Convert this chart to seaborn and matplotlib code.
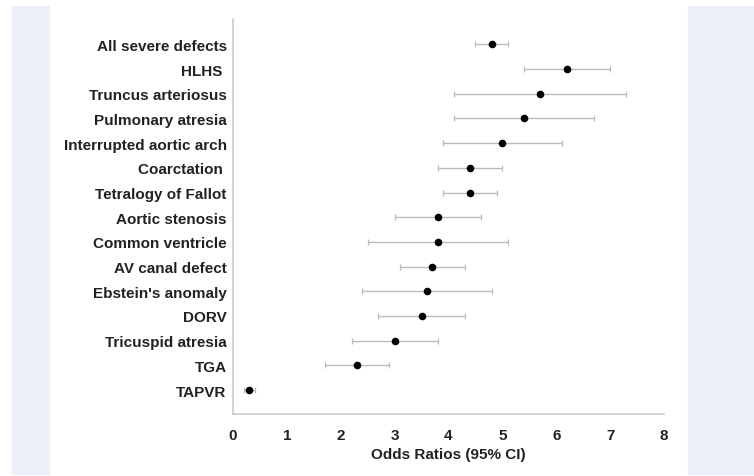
import numpy as np
import pandas as pd
import matplotlib
matplotlib.use("Agg")
import matplotlib.pyplot as plt
from matplotlib.patches import Rectangle
import seaborn as sns

# Odds ratios with 95% CI (top to bottom)
defects = ["All severe defects", "HLHS ", "Truncus arteriosus", "Pulmonary atresia",
           "Interrupted aortic arch", "Coarctation ", "Tetralogy of Fallot",
           "Aortic stenosis", "Common ventricle", "AV canal defect",
           "Ebstein's anomaly", "DORV", "Tricuspid atresia", "TGA", "TAPVR"]
odds_ratio = [4.8, 6.2, 5.7, 5.4, 5.0, 4.4, 4.4, 3.8, 3.8, 3.7, 3.6, 3.5, 3.0, 2.3, 0.3]
ci_low = [4.5, 5.4, 4.1, 4.1, 3.9, 3.8, 3.9, 3.0, 2.5, 3.1, 2.4, 2.7, 2.2, 1.7, 0.2]
ci_high = [5.1, 7.0, 7.3, 6.7, 6.1, 5.0, 4.9, 4.6, 5.1, 4.3, 4.8, 4.3, 3.8, 2.9, 0.4]
x_ticks = [0, 1, 2, 3, 4, 5, 6, 7, 8]

df = pd.DataFrame({"defect": defects, "or": odds_ratio,
                   "lo": ci_low, "hi": ci_high})
df["pos"] = np.arange(len(df))

sns.set_theme(style="white")
plt.rcParams["font.family"] = ["Liberation Sans", "DejaVu Sans"]

fig = plt.figure(figsize=(7.54, 4.77), dpi=100, facecolor="white")

# light blue side panels of the page
band = "#eaeff9"
fig.add_artist(Rectangle((12 / 754, 2 / 477), 37 / 754, 468 / 477,
                         transform=fig.transFigure, color=band, zorder=0))
fig.add_artist(Rectangle((688 / 754, 2 / 477), 66 / 754, 468 / 477,
                         transform=fig.transFigure, color=band, zorder=0))

ax = fig.add_axes([233 / 754, 1 - 415 / 477, 431 / 754, 395 / 477])
ax.set_facecolor("none")

# confidence intervals
ax.errorbar(df["or"], df["pos"],
            xerr=[df["or"] - df["lo"], df["hi"] - df["or"]],
            fmt="none", ecolor="#bbbbbb", elinewidth=1.0,
            capsize=2.5, capthick=0.9, zorder=2)

# point estimates
sns.scatterplot(data=df, x="or", y="pos", ax=ax, color="black",
                s=30, edgecolor="black", linewidth=0, zorder=3, legend=False)

ax.set_xlim(0, 8)
ax.set_ylim(14.97, -1.03)
ax.set_xticks(x_ticks)
ax.set_xticklabels([str(t) for t in x_ticks], fontsize=11, fontweight="bold",
                   color="#222222")
ax.set_yticks(df["pos"])
ax.set_yticklabels(df["defect"], fontsize=11, fontweight="bold", color="#222222")
ax.tick_params(axis="x", length=0, pad=10)
ax.tick_params(axis="y", length=0, pad=4.5)

ax.set_xlabel("Odds Ratios (95% CI)", fontsize=11, fontweight="bold",
              color="#222222", labelpad=4)
ax.set_ylabel("")

for side in ["top", "right"]:
    ax.spines[side].set_visible(False)
for side in ["left", "bottom"]:
    ax.spines[side].set_color("#cccccc")
    ax.spines[side].set_linewidth(1.2)

fig.savefig("out.png", dpi=100, facecolor="white")
